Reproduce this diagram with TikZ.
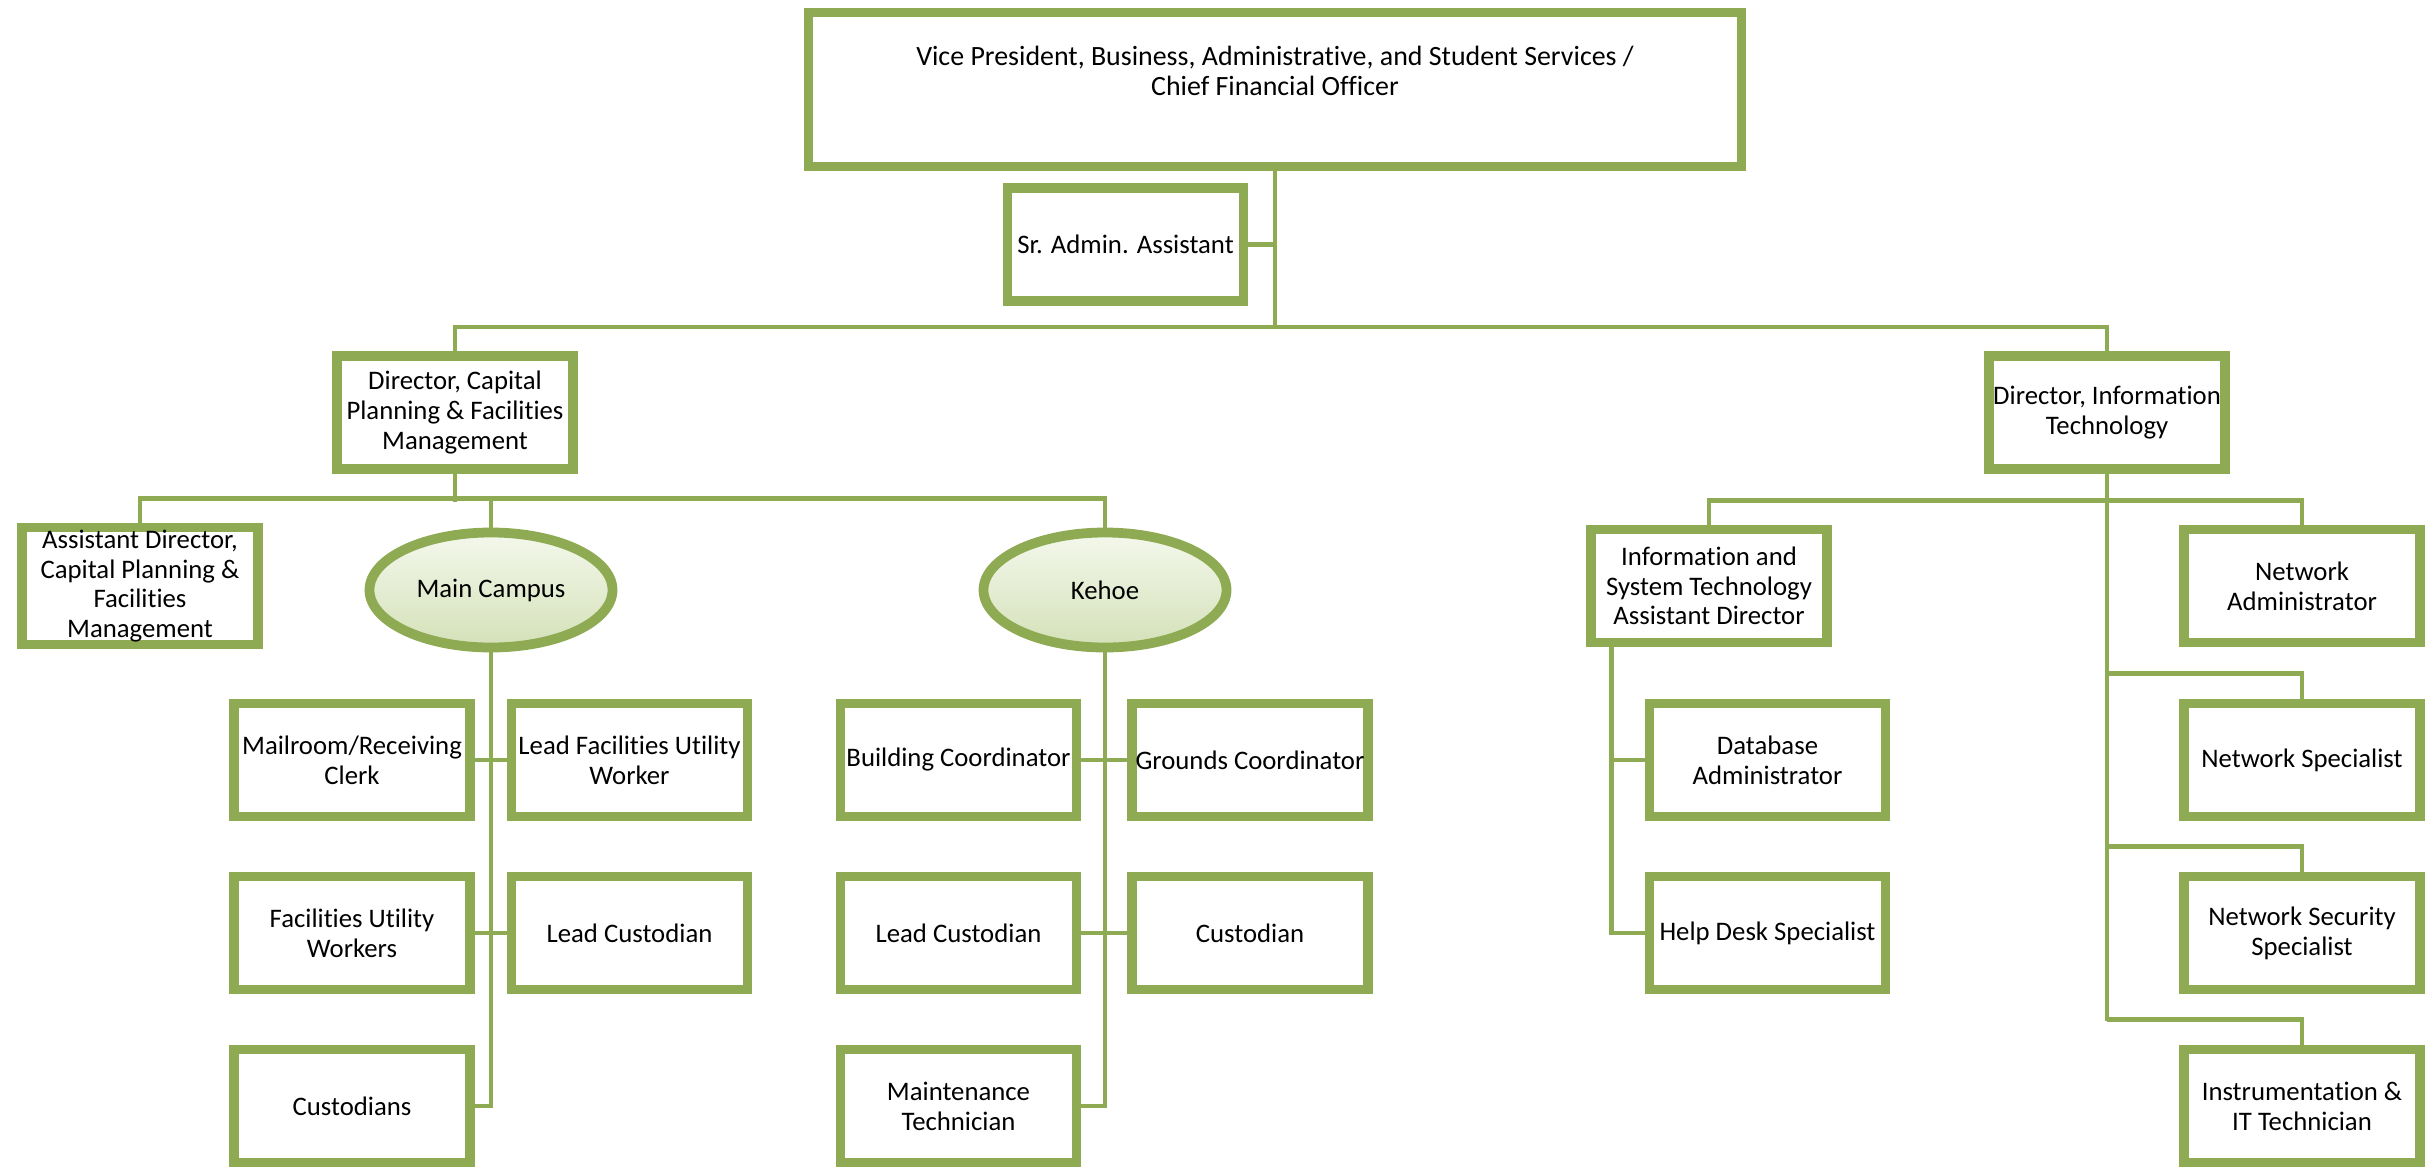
\documentclass[tikz,border=0pt]{standalone}
\usepackage{fontspec}
\setmainfont{Carlito}[Ligatures=NoCommon]
\usepackage{tikz}
\usetikzlibrary{shapes.geometric,shadows,positioning}
\definecolor{boxgreen}{RGB}{142,170,82}
\definecolor{ovaltop}{RGB}{244,248,236}
\definecolor{ovalbottom}{RGB}{212,225,184}

\begin{document}
\begin{tikzpicture}[
  x=0.43pt, y=-0.43pt,
  font=\fontsize{11.5}{12.8}\selectfont,
  shade/.style = {drop shadow={shadow xshift=1.2pt,shadow yshift=-1.4pt,opacity=.35,fill=black!60}},
  box/.style = {draw=boxgreen, line width=4.2pt, fill=white, align=center,
    minimum width=236*0.43pt, minimum height=113*0.43pt, inner sep=1pt, shade},
  site/.style = {ellipse, draw=boxgreen, line width=4.2pt, top color=ovaltop,
    bottom color=ovalbottom, minimum width=243*0.43pt, minimum height=115*0.43pt, shade},
  link/.style = {draw=boxgreen, line width=2pt}
  ]
  \useasboundingbox (0,0) rectangle (2434,1171);
  % Top
  \node[box, minimum width=933*0.43pt, minimum height=154*0.43pt,
    font=\fontsize{12}{13.2}\selectfont] (vp) at (1275,89.5)
    {Vice President, Business, Administrative, and Student Services /\\Chief Financial Officer\\[3pt]\mbox{}};
  \node[box] (sraa) at (1125.5,244.5) {Sr. Admin. Assistant};
  \node[box] (dcp) at (455,412.5) {Director, Capital\\Planning \& Facilities\\Management};
  \node[box] (dit) at (2107,412.5) {Director, Information\\Technology};
  % Capital planning side
  \node[box] (ad) at (140,586) {Assistant Director,\\Capital Planning \&\\Facilities\\Management};
  \node[site] (mc) at (491,590) {Main Campus};
  \node[site] (ke) at (1105,590) {Kehoe};
  \node[box] (mail) at (352,760) {Mailroom/Receiving\\Clerk};
  \node[box] (lfuw) at (629.5,760) {Lead Facilities Utility\\Worker};
  \node[box] (fuw) at (352,933) {Facilities Utility\\Workers};
  \node[box] (mclc) at (629.5,933) {Lead Custodian};
  \node[box] (cust) at (352,1106) {Custodians};
  \node[box] (bc) at (958.5,760) {Building Coordinator};
  \node[box] (gc) at (1250,760) {Grounds Coordinator};
  \node[box] (kelc) at (958.5,933) {Lead Custodian};
  \node[box] (kec) at (1250,933) {Custodian};
  \node[box] (mt) at (958.5,1106) {Maintenance\\Technician};
  % IT side
  \node[box] (ist) at (1709,586) {Information and\\System Technology\\Assistant Director};
  \node[box] (dba) at (1767.5,760) {Database\\Administrator};
  \node[box] (hd) at (1767.5,933) {Help Desk Specialist};
  \node[box] (na) at (2302,586) {Network\\Administrator};
  \node[box] (ns) at (2302,760) {Network Specialist};
  \node[box] (nss) at (2302,933) {Network Security\\Specialist};
  \node[box] (itt) at (2302,1106) {Instrumentation \&\\IT Technician};

  % Top links
  \draw[link] (vp.south) -- ++(0,157) coordinate (topbus);
  \draw[link] (sraa.east) -- (sraa.east -| topbus);
  \draw[link] (dcp.north) -- ++(0,-24) -| (dit.north);
  % Capital planning links
  \draw[link] (dcp.south) -- ++(0,28);
  \draw[link] (ad.north) -- ++(0,-24) -| (ke.north);
  \draw[link] (mc.north) -- (mc.north |- ad.north) -- ++(0,-24);
  \draw[link] (mc.south) |- (cust.east);
  \draw[link] (ke.south) |- (mt.east);
  \foreach \l/\r in {mail/lfuw, fuw/mclc, bc/gc, kelc/kec}
    \draw[link] (\l.east) -- (\r.west);
  % IT links
  \draw[link] (dit.south) -- ++(0,547);
  \draw[link] (ist.north) -- ++(0,-24) -| (na.north);
  \foreach \n in {ns,nss,itt}
    \draw[link] (\n.north) -- ++(0,-25) coordinate (c) -- (c -| dit.south);
  \foreach \n in {dba,hd}
    \draw[link] ([xshift=11pt]ist.south west) |- (\n.west);
\end{tikzpicture}
\end{document}
